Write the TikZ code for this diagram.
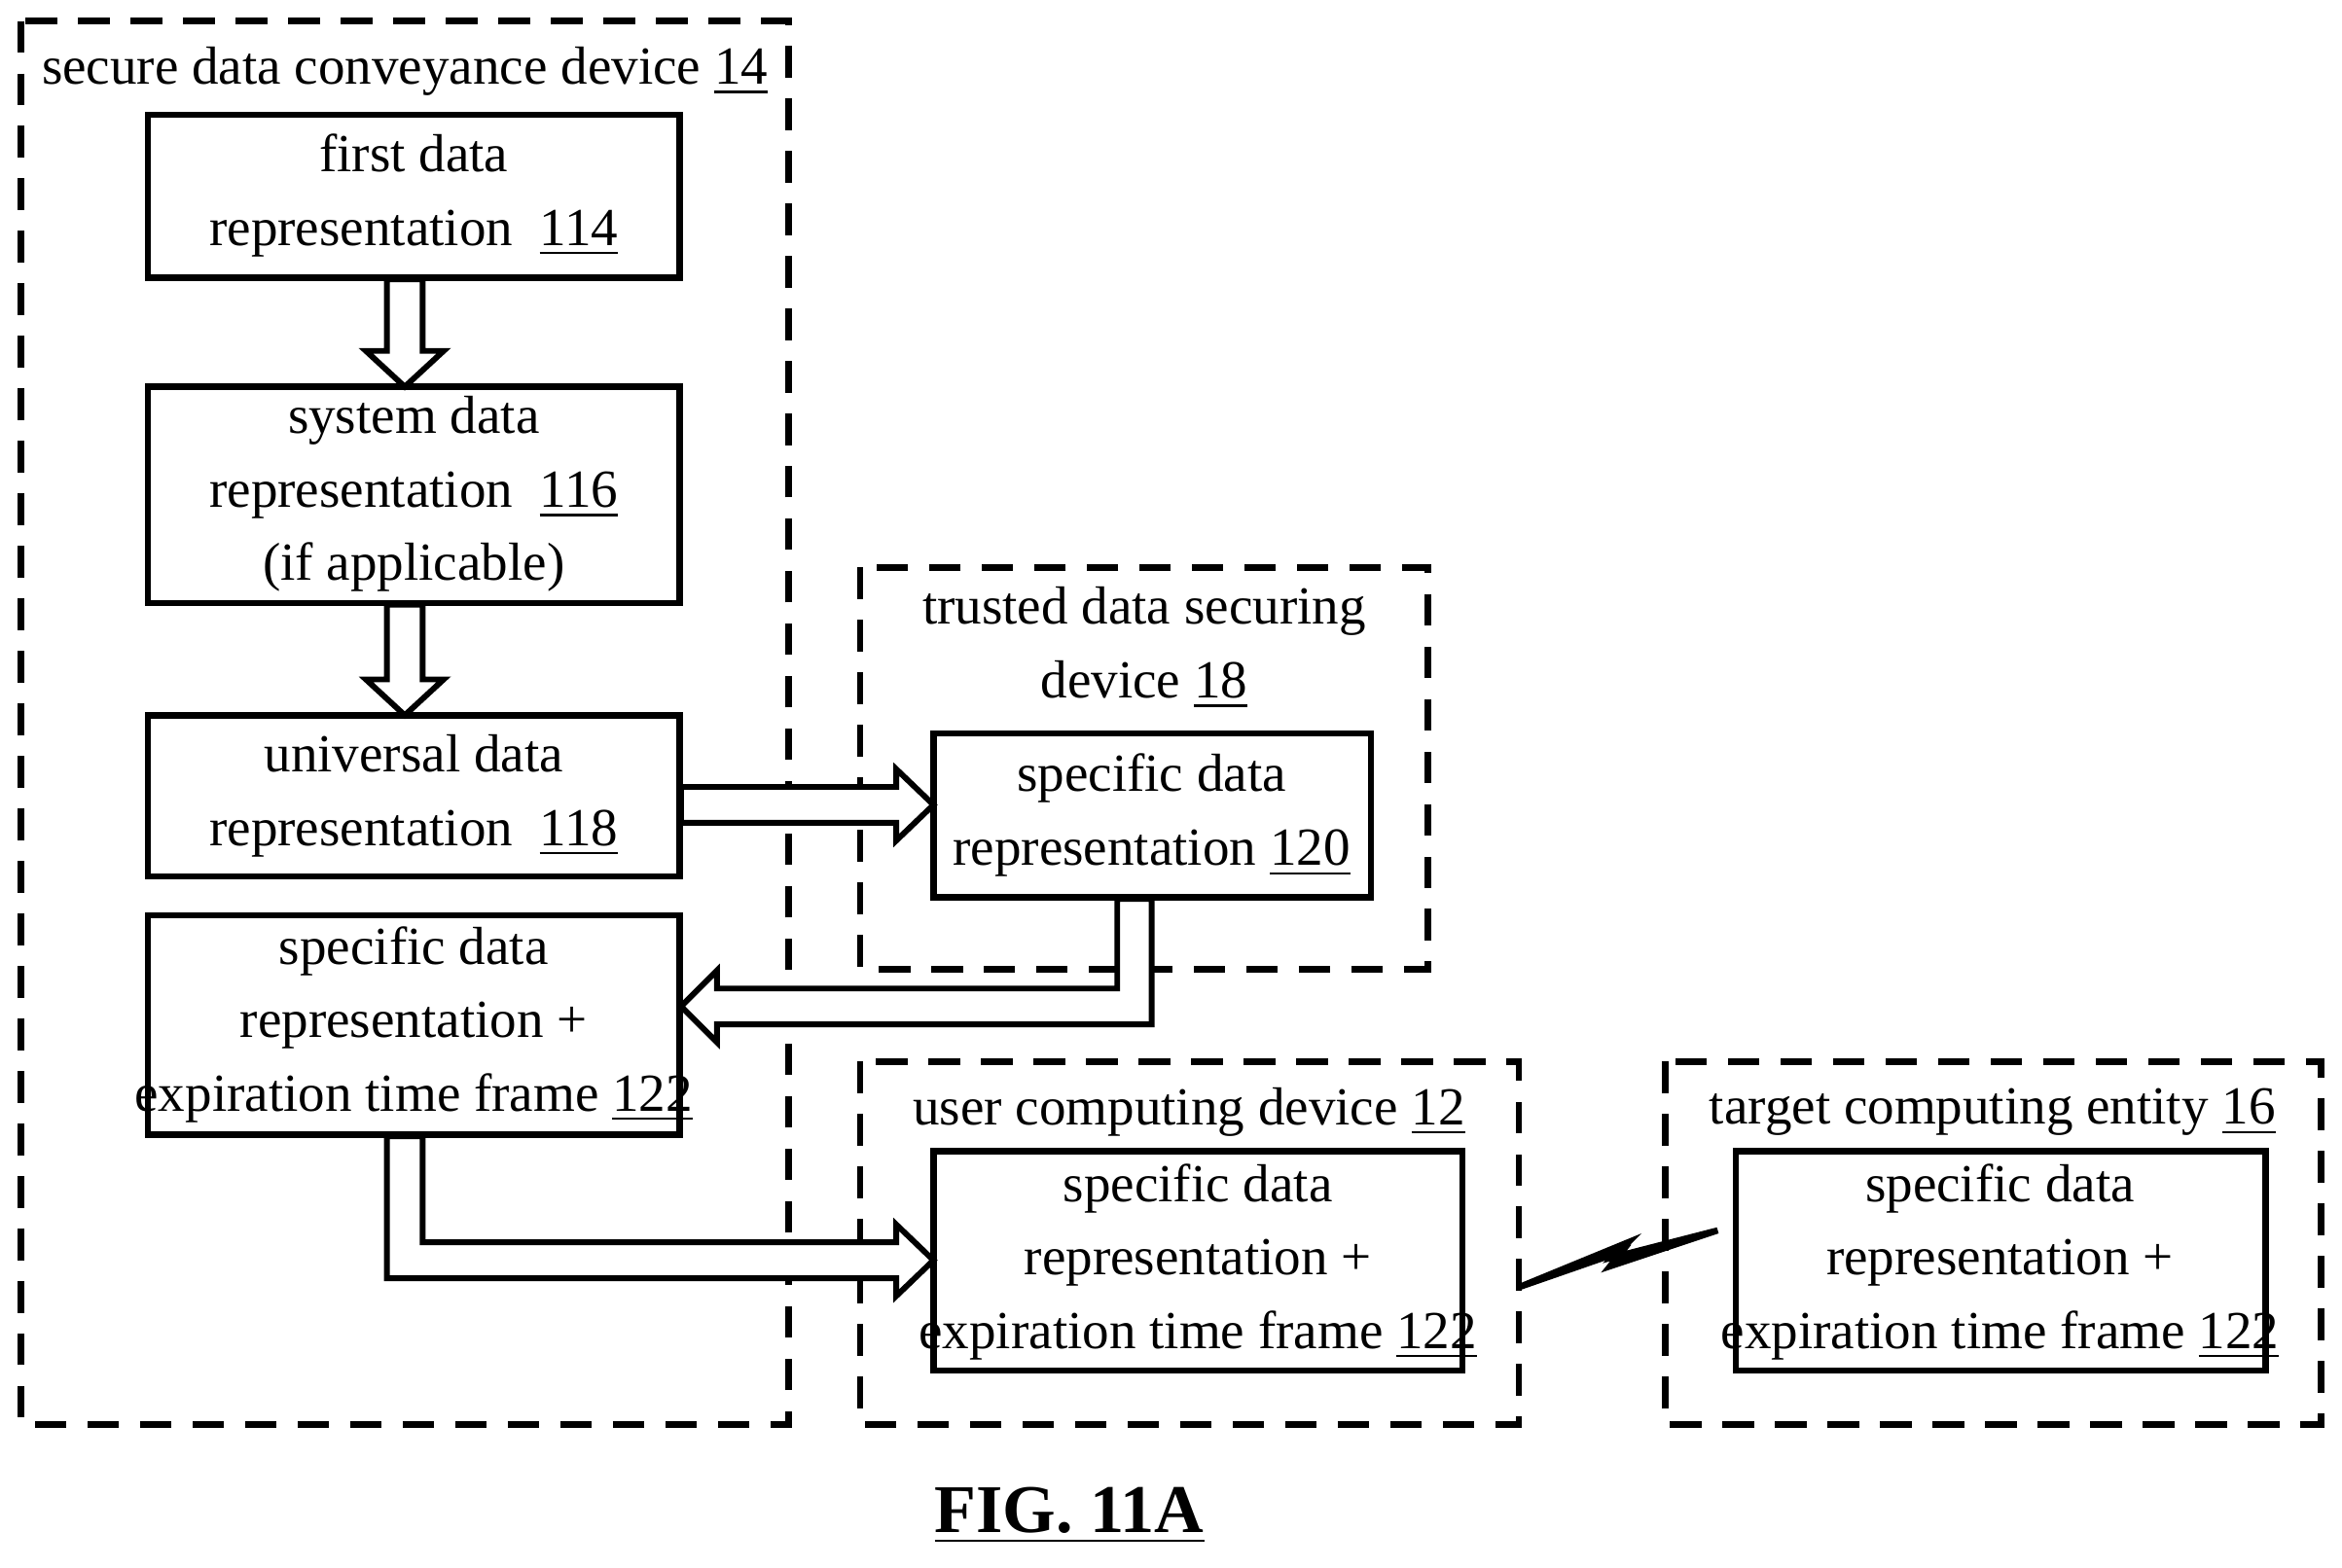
\documentclass[tikz,border=0pt]{standalone}
\usepackage{fontspec}
\setmainfont{Liberation Serif}
\begin{document}
\begin{tikzpicture}[x=0.01cm,y=-0.01cm,
 box/.style={draw,line width=1.2pt,inner sep=0pt},
 dbox/.style={draw,line width=1.2pt,dash pattern=on 6pt off 4pt},
 txt/.style={align=center,font=\fontsize{10.2}{14}\selectfont},
 blk/.style={draw,line width=1.1pt,fill=white,line join=miter}]
\useasboundingbox (0,0) rectangle (1568,1050);
\draw[dbox] (14,14) rectangle (528,954);
\draw[dbox] (576,380) rectangle (956,649);
\draw[dbox] (576,711) rectangle (1017,954);
\draw[dbox] (1115,711) rectangle (1554,954);
\node[txt] (l14) at (271,48) {secure data conveyance device \underline{14}};
\node[txt] (l18) at (766,434) {trusted data securing\\device \underline{18}};
\node[txt] (l12) at (796,745) {user computing device \underline{12}};
\node[txt] (l16) at (1334,745) {target computing entity \underline{16}};
\draw[box] (99,77) rectangle (455,186);
\node[txt] (b114) at (277,131) {first data\\representation\ \ \underline{114}};
\draw[box] (99,259) rectangle (455,404);
\node[txt] (b116) at (277,331) {system data\\representation\ \ \underline{116}\\(if applicable)};
\draw[box] (99,479) rectangle (455,587);
\node[txt] (b118) at (277,533) {universal data\\representation\ \ \underline{118}};
\draw[box] (99,613) rectangle (455,760);
\node[txt] (b122a) at (277,686) {specific data\\representation +\\expiration time frame \underline{122}};
\draw[box] (625,491) rectangle (918,601);
\node[txt] (b120) at (771,546) {specific data\\representation \underline{120}};
\draw[box] (625,771) rectangle (979,918);
\node[txt] (b122b) at (802,845) {specific data\\representation +\\expiration time frame \underline{122}};
\draw[box] (1162,771) rectangle (1517,918);
\node[txt] (b122c) at (1339,845) {specific data\\representation +\\expiration time frame \underline{122}};
% block arrows
\draw[blk] (259,187)--(283,187)--(283,235)--(297,235)--(271,259)--(245,235)--(259,235)--cycle;
\draw[blk] (259,405)--(283,405)--(283,455)--(297,455)--(271,479)--(245,455)--(259,455)--cycle;
\draw[blk] (456,527)--(600,527)--(600,515)--(625,539)--(600,563)--(600,551)--(456,551)--cycle;
\draw[blk] (748,602)--(771,602)--(771,686)--(480,686)--(480,698)--(456,674)--(480,650)--(480,662)--(748,662)--cycle;
\draw[blk] (259,761)--(283,761)--(283,832)--(600,832)--(600,820)--(625,844)--(600,868)--(600,856)--(259,856)--cycle;
% wireless link
\coordinate (w1) at (1017,862); \coordinate (w2) at (1150,824);
\draw[line width=1.2pt,fill=black] (w1)--(1090,832)--(1080,842)--(w2)--(1078,848)--(1086,838)--cycle;
\node[font=\fontsize{13}{15}\selectfont\bfseries] (fig) at (716,1015) {\underline{FIG. 11A}};
\end{tikzpicture}
\end{document}
